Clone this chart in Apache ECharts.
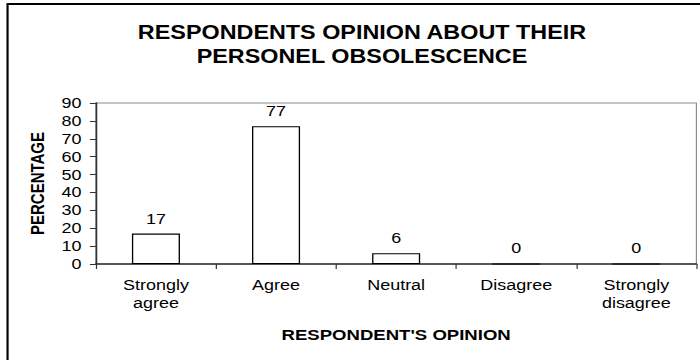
<!DOCTYPE html>
<html>
<head>
<meta charset="utf-8">
<style>
  html, body { margin: 0; padding: 0; background: #fff; overflow: hidden; }
  /* The chart is laid out on a 584px-wide surface and widened to the 700px page,
     giving the horizontally stretched look of the original export. */
  #chart { width: 584px; height: 360px; transform: scaleX(1.19863); transform-origin: 0 0; }
</style>
<script src="https://cdn.jsdelivr.net/npm/echarts@6/dist/echarts.min.js"></script>
</head>
<body>
<div id="chart"></div>
<script>
// Opinion categories and share of respondents (%)
const categories = ['Strongly\nagree', 'Agree', 'Neutral', 'Disagree', 'Strongly\ndisagree'];
const percentages = [17, 77, 6, 0, 0];
const yTicks = [0, 10, 20, 30, 40, 50, 60, 70, 80, 90];

const FONT = 'Arial, "Liberation Sans", sans-serif';

const chart = echarts.init(document.getElementById('chart'), null, { renderer: 'svg' });

chart.setOption({
  animation: false,
  backgroundColor: '#ffffff',
  title: {
    text: 'RESPONDENTS OPINION ABOUT THEIR\nPERSONEL OBSOLESCENCE',
    left: 297,
    top: 15.5,
    textAlign: 'center',
    textStyle: {
      fontFamily: FONT,
      fontWeight: 'bold',
      fontSize: 19.5,
      lineHeight: 24,
      color: '#000'
    }
  },
  grid: { left: 80, right: 3, top: 103, bottom: 96, show: true, borderColor: '#8c8c8c', borderWidth: 1, containLabel: false },
  xAxis: {
    type: 'category',
    data: categories,
    name: "RESPONDENT'S OPINION",
    nameLocation: 'middle',
    nameGap: 63,
    nameTextStyle: { fontFamily: FONT, fontWeight: 'bold', fontSize: 15.5, color: '#000' },
    axisLine: { lineStyle: { color: '#333', width: 1.5 } },
    axisTick: { show: true, length: 5, inside: false, lineStyle: { color: '#333' } },
    axisLabel: { fontFamily: FONT, fontSize: 15, color: '#000', lineHeight: 18, margin: 12.5, interval: 0 },
    splitLine: { show: false }
  },
  yAxis: {
    type: 'value',
    min: yTicks[0],
    max: yTicks[yTicks.length - 1],
    interval: 10,
    name: 'PERCENTAGE',
    nameLocation: 'middle',
    nameGap: 41,
    nameRotate: 90,
    nameTextStyle: { fontFamily: FONT, fontWeight: 'bold', fontSize: 15, color: '#000' },
    axisLine: { show: true, lineStyle: { color: '#333', width: 1.3 } },
    axisTick: { show: true, length: 5, lineStyle: { color: '#333' } },
    axisLabel: { fontFamily: FONT, fontSize: 15, color: '#000', margin: 12 },
    splitLine: { show: false }
  },
  series: [{
    type: 'bar',
    data: percentages,
    barWidth: '40%',
    itemStyle: { color: '#ffffff', borderColor: '#000', borderWidth: 1.1 },
    label: {
      show: true,
      position: 'top',
      distance: 7.5,
      fontFamily: FONT,
      fontSize: 15,
      color: '#000'
    }
  }],
  graphic: [
    { type: 'line', shape: { x1: 6.3, y1: 4, x2: 6.3, y2: 360 }, style: { stroke: '#000', lineWidth: 1.8 } },
    { type: 'line', shape: { x1: 5.5, y1: 4, x2: 584, y2: 4 }, style: { stroke: '#000', lineWidth: 2 } }
  ]
});
</script>
</body>
</html>
